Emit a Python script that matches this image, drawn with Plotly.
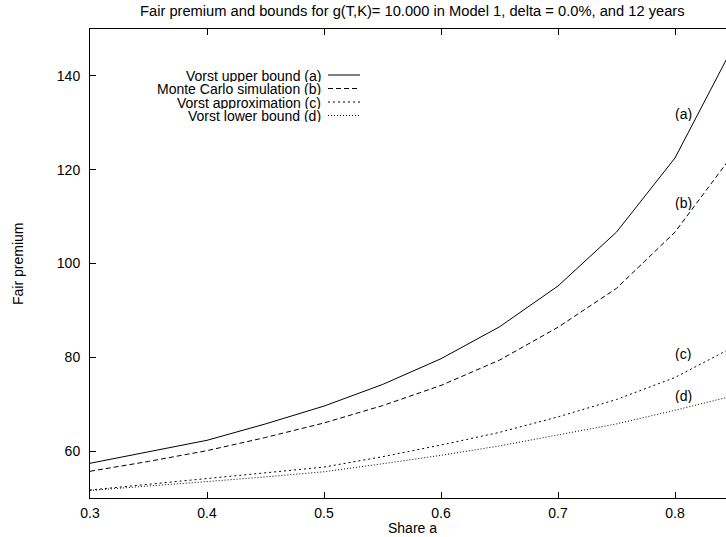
import plotly.graph_objects as go

share = [0.30, 0.35, 0.40, 0.45, 0.50, 0.55, 0.60, 0.65, 0.70, 0.75, 0.80, 0.85]
upper_a = [57.4, 59.8, 62.3, 65.8, 69.6, 74.2, 79.7, 86.5, 95.2, 106.7, 122.5, 146.4]
monte_b = [55.7, 57.8, 60.1, 62.9, 66.0, 69.7, 74.0, 79.4, 86.4, 94.7, 106.7, 123.4]
approx_c = [51.7, 52.9, 54.2, 55.3, 56.6, 58.8, 61.3, 64.0, 67.3, 71.0, 75.7, 82.2]
lower_d = [51.6, 52.5, 53.5, 54.5, 55.6, 57.3, 59.1, 61.1, 63.4, 65.8, 68.7, 71.8]

names = ["Vorst upper bound (a)", "Monte Carlo simulation (b)",
         "Vorst approximation (c)", "Vorst lower bound (d)"]
series = [upper_a, monte_b, approx_c, lower_d]
dashes = ["solid", "5px,3px", "2px,3px", "1px,2px"]
tags = ["(a)", "(b)", "(c)", "(d)"]
tag_pos = [(0.807, 131.9), (0.807, 112.8), (0.807, 80.6), (0.807, 71.7)]

x_ticks = [0.3, 0.4, 0.5, 0.6, 0.7, 0.8]
y_ticks = [60, 80, 100, 120, 140]

FONT = "Liberation Sans, Arial, Helvetica, sans-serif"
W, H = 726, 537
L, R, T, B = 90, 0, 29, 39

fig = go.Figure()
for name, ys, dash in zip(names, series, dashes):
    fig.add_trace(go.Scatter(x=share, y=ys, mode="lines", name=name,
                             line=dict(color="black", width=1, dash=dash),
                             showlegend=False))

plot_w = W - L - R
x_max = 0.3 + plot_w / 1170.0
plot_h = H - T - B

def px_x(px):
    return (px - L) / plot_w

def px_y(py):
    return 1 - (py - T) / plot_h

annotations = []
for t, (tx, ty) in zip(tags, tag_pos):
    annotations.append(dict(x=tx, y=ty, xref="x", yref="y", text=t, showarrow=False,
                            height=14,
                            font=dict(family=FONT, size=14, color="black")))

legend_rows = [75, 88.5, 102, 115.5]
shapes = []
for name, dash, ry in zip(names, dashes, legend_rows):
    annotations.append(dict(x=px_x(323), y=px_y(ry), xref="paper", yref="paper",
                            text=name, showarrow=False, xanchor="right", yanchor="middle",
                            height=13, valign="middle",
                            font=dict(family=FONT, size=14, color="black")))
    shapes.append(dict(type="line", xref="paper", yref="paper",
                       x0=px_x(328), x1=px_x(360), y0=px_y(ry), y1=px_y(ry),
                       line=dict(color="black", width=1, dash=dash)))

annotations.append(dict(x=px_x(412), y=px_y(11), xref="paper", yref="paper",
                        text="Fair premium and bounds for g(T,K)= 10.000 in Model 1, delta = 0.0%, and 12 years",
                        showarrow=False, xanchor="center", yanchor="middle",
                        font=dict(family=FONT, size=14.7, color="black")))
annotations.append(dict(x=px_x(412), y=px_y(528), xref="paper", yref="paper",
                        text="Share a", showarrow=False, xanchor="center", yanchor="middle",
                        height=14,
                        font=dict(family=FONT, size=14, color="black")))
annotations.append(dict(x=px_x(18), y=px_y(264), xref="paper", yref="paper",
                        text="Fair premium", showarrow=False, textangle=-90,
                        xanchor="center", yanchor="middle",
                        font=dict(family=FONT, size=14, color="black")))

fig.update_layout(
    width=W, height=H,
    margin=dict(l=L, r=R, t=T, b=B, pad=0),
    paper_bgcolor="white", plot_bgcolor="white",
    font=dict(family=FONT, size=14, color="black"),
    annotations=annotations, shapes=shapes,
    xaxis=dict(range=[0.3, x_max], tickvals=x_ticks, ticktext=[f"{v:.1f}" for v in x_ticks],
               showgrid=False, zeroline=False, showline=True, linecolor="black", linewidth=1,
               mirror="ticks", ticks="inside", ticklen=6, tickcolor="black", tickwidth=1,
               ticklabelstandoff=2, tickfont=dict(family=FONT, size=14, color="black")),
    yaxis=dict(range=[50, 150], tickvals=y_ticks, ticktext=[str(v) for v in y_ticks],
               showgrid=False, zeroline=False, showline=True, linecolor="black", linewidth=1,
               mirror=False, ticks="inside", ticklen=6, tickcolor="black", tickwidth=1,
               ticklabelstandoff=6, tickfont=dict(family=FONT, size=14, color="black")),
)

fig.write_html("out.html")
